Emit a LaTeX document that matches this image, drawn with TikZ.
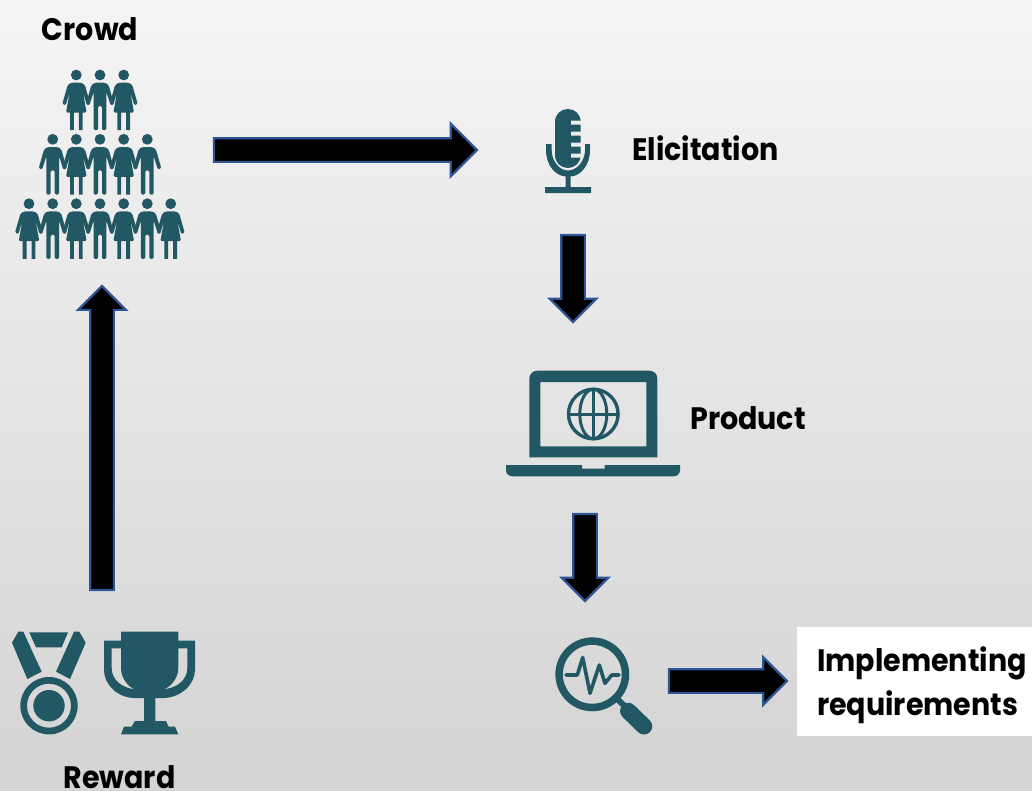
\documentclass[tikz,border=0pt]{standalone}
\usepackage{fontspec}
\setmainfont{Poppins}[FakeStretch=0.92]
\usetikzlibrary{shapes.arrows}
\definecolor{teal}{RGB}{34,88,99}
\definecolor{edgeblue}{RGB}{47,85,151}
\tikzset{
  label/.style={font=\fontsize{31}{36}\selectfont\bfseries,text=black,inner sep=0pt},
  llabel/.style={label,anchor=base west},
  blockarrow/.style={single arrow,fill=black,draw=edgeblue,line width=2.2pt,inner sep=0pt,outer sep=0pt,
    text height=21.5pt,text depth=0pt,text width=1pt,single arrow head indent=0pt,sloped,allow upside down,pos=0,anchor=tail},
}
\newcommand{\man}[2]{\begin{scope}[shift={(#1,#2)}]
 \fill[teal] (0,0) circle (5.4);
 \fill[teal,rounded corners=1.4pt] (-5,7.7)--(5,7.7)--(8.6,10)--(14,29)--(10.6,30.4)--(6.4,17)--(6.4,55.2)--(2,55.2)--(2,31)--(-2,31)--(-2,55.2)--(-6.4,55.2)--(-6.4,17)--(-10.6,30.4)--(-14,29)--(-8.6,10)--cycle;
\end{scope}}
\newcommand{\woman}[2]{\begin{scope}[shift={(#1,#2)}]
 \fill[teal] (0,0) circle (5.4);
 \fill[teal,rounded corners=1.4pt] (-5,7.7)--(5,7.7)--(8.6,10)--(14,29)--(10.6,30.4)--(6.6,17)--(10.3,37.5)--(-10.3,37.5)--(-6.6,17)--(-10.6,30.4)--(-14,29)--(-8.6,10)--cycle;
 \fill[teal] (-6.3,36)rectangle(-2.5,55.2) (2.5,36)rectangle(6.3,55.2);
\end{scope}}
\begin{document}
\begin{tikzpicture}[x=1pt,y=-1pt]
\useasboundingbox (0,0) rectangle (1032,790);
\shade[top color=white!96!black,bottom color=white!83!black] (0,0) rectangle (1032,790);
\fill[white] (797,627) rectangle (1032,736);

% crowd
\woman{76.3}{75}\man{100}{75}\woman{123.7}{75}
\man{52.7}{139.3}\woman{76.3}{139.3}\man{100}{139.3}\woman{123.7}{139.3}\man{147.3}{139.3}
\woman{29}{203.7}\man{52.7}{203.7}\woman{76.3}{203.7}\man{100}{203.7}\woman{123.7}{203.7}\man{147.3}{203.7}\woman{170.7}{203.7}

% microphone
\fill[teal] (555,122) .. controls (555,114) and (561,109) .. (567.85,109) .. controls (574.7,109) and (580.7,114) .. (580.7,122) -- (580.7,155) .. controls (580.7,163) and (574.7,168) .. (567.85,168) .. controls (561,168) and (555,163) .. (555,155) -- cycle;
\fill[teal] (546,144)--(551.7,144)--(551.7,150) .. controls (551.7,162) and (560,170.5) .. (568,170.5) .. controls (576,170.5) and (585,162) .. (585,150)--(585,144)--(590,144)--(590,150) .. controls (590,166) and (580,176) .. (570.7,176.5)--(570.7,187)--(591,187)--(591,193)--(545,193)--(545,187)--(565.7,187)--(565.7,176.5) .. controls (556,176) and (546,166) .. (546,150)--cycle;
\fill[white!93!black] (571,120.5) rectangle (581,124.5) (571,131.5) rectangle (581,135.5) (571,142.5) rectangle (581,146.5) (571,153.5) rectangle (581,157.5);

% laptop
\fill[teal,even odd rule] (529.3,457.3)--(529.3,378.7) .. controls (529.3,374) and (533,370.7) .. (537.3,370.7)--(649.3,370.7) .. controls (654,370.7) and (657.3,374) .. (657.3,378.7)--(657.3,457.3)--cycle (540.3,382) rectangle (646.3,446.3);
\fill[teal] (506,465)--(582,465)--(582,468.7)--(604.7,468.7)--(604.7,465)--(680,465)--(680,470) .. controls (680,474) and (677,476.3) .. (673.7,476.3)--(512.3,476.3) .. controls (509,476.3) and (506,474) .. (506,470)--cycle;
\draw[teal,line width=3.4pt] (593.3,414) circle (24.8);
\draw[teal,line width=3pt] (593.3,414) ellipse [x radius=13.5,y radius=24.8];
\draw[teal,line width=3pt] (593.3,389.2)--(593.3,438.8) (568.5,414)--(618.1,414);

% medal
\fill[teal] (18.3,631.7)--(23.3,631.7)--(41.7,671.7)--(27.3,679)--(12,642.7)--cycle;
\fill[teal] (79.3,631.7)--(74,631.7)--(56,671.7)--(70,679)--(85.7,642.7)--cycle;
\fill[teal] (29.3,632.3)--(68,632.3)--(61.7,647.3)--(36,647.3)--cycle;
\fill[teal,even odd rule] (49,705.7) circle (28.7) (49,705.7) circle (22);
\fill[teal] (49,705.7) circle (15.7);

% trophy
\fill[teal,even odd rule] (121,631.7)--(178.3,631.7)--(178.3,640.7)--(195,640.7)--(195,670) .. controls (195,685) and (180,698) .. (163,698)--(155.3,698)--(155.3,721)--(166,721)--(168.5,726.7)--(175,726.7)--(178.3,734.3)--(121,734.3)--(124,726.7)--(131.5,726.7)--(135,721)--(144,721)--(144,698)--(135,698) .. controls (118,698) and (104,685) .. (104,670)--(104,640.7)--(121,640.7)--cycle
 (111.7,648.3)--(121,648.3)--(121,668) .. controls (121,678) and (128,687) .. (135,689.3) .. controls (122,688) and (111.7,680) .. (111.7,668)--cycle
 (187.3,648.3)--(178.3,648.3)--(178.3,668) .. controls (178.3,678) and (171,687) .. (163.5,689.3) .. controls (177,688) and (187.3,680) .. (187.3,668)--cycle;

% magnifier
\draw[teal,line width=7.5pt] (592.3,674.3) circle (33.2);
\draw[teal,line width=6pt] (615,697)--(630,711);
\draw[teal,line width=16.5pt,line cap=round] (628.3,711)--(644,726.3);
\draw[teal,line width=3.6pt,line cap=round,line join=round] (566,675)--(577.3,675)--(582.7,657.5)--(590,693.3)--(599.3,665)--(605,683.3)--(611.7,675)--(619,675);

% anchors for the arrows
\coordinate (crowdR) at (214,150);
\coordinate (elicL) at (477,150);
\coordinate (elicB) at (573,235);
\coordinate (prodT) at (573,322);
\coordinate (prodB) at (585,514);
\coordinate (lensT) at (585,601);
\coordinate (lensR) at (669,681);
\coordinate (implL) at (787,681);
\coordinate (rewardT) at (102,590);
\coordinate (crowdB) at (102,286);

\path (crowdR)--(elicL) node[blockarrow,single arrow head extend=14.5pt,minimum width=51pt,minimum height=263pt] (a1) {};
\path (elicB)--(prodT) node[blockarrow,single arrow head extend=11.5pt,minimum width=45pt,minimum height=87pt] (a2) {};
\path (prodB)--(lensT) node[blockarrow,single arrow head extend=11.5pt,minimum width=45pt,minimum height=87pt] (a3) {};
\path (lensR)--(implL) node[blockarrow,single arrow head extend=12pt,minimum width=46pt,minimum height=118pt] (a4) {};
\path (rewardT)--(crowdB) node[blockarrow,single arrow head extend=12pt,minimum width=46pt,minimum height=304pt] (a5) {};

\node[label,anchor=base] (crowd) at (90,40) {Crowd};
\node[llabel] (elic) at (632,160) {Elicitation};
\node[llabel] (prod) at (690,429) {Product};
\node[llabel] (impl) at (817,671) {Implementing};
\node[llabel] (reqs) at (817,715) {requirements};
\node[label,anchor=base] (reward) at (119.5,788) {Reward};
\end{tikzpicture}
\end{document}
